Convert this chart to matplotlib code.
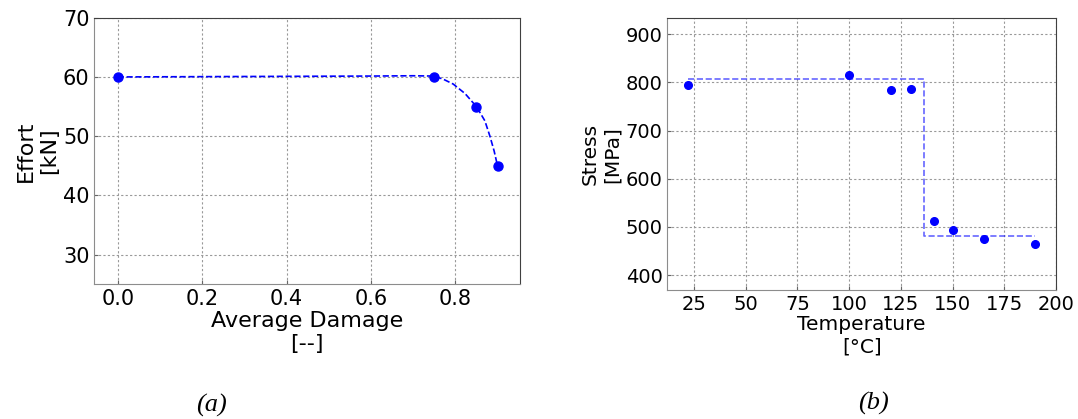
import numpy as np
import matplotlib
matplotlib.use('Agg')
import matplotlib.pyplot as plt

# (a) effort vs average damage
damage_pts = [0.0, 0.75, 0.85, 0.90]
effort_pts = [60.0, 60.0, 55.0, 45.0]
# fitted curve
damage_fit = [0.0, 0.2, 0.4, 0.6, 0.7, 0.75, 0.772, 0.795, 0.823, 0.85, 0.87, 0.882, 0.892, 0.9]
effort_fit = [60.0, 60.05, 60.1, 60.15, 60.2, 60.15, 59.6, 58.8, 57.2, 55.0, 52.6, 50.0, 47.5, 45.0]

# (b) stress vs temperature
temp_pts = [22, 100, 120, 130, 141, 150, 165, 190]
stress_pts = [795, 816, 784, 786, 512, 493, 475, 465]
temp_step = [22, 136, 136, 190]
stress_step = [807, 807, 481, 481]


def style_axes(ax, tick_size):
    ax.grid(True, color='0.6', linestyle=(0, (2, 2)), linewidth=0.8)
    ax.set_axisbelow(True)
    ax.tick_params(direction='in', length=3, labelsize=tick_size, color='0.4')
    for side in ['left', 'bottom']:
        ax.spines[side].set_color('0.55')
    for side in ['top', 'right']:
        ax.spines[side].set_color('0.25')


fig = plt.figure(figsize=(10.78, 4.19), dpi=100)

ax1 = fig.add_axes([94.3 / 1078, 1 - 284.3 / 419, 426 / 1078, 266.6 / 419])
ax1.plot(damage_fit, effort_fit, '--', color='b', lw=1.2)
ax1.plot(damage_pts, effort_pts, 'o', color='b', ms=6.5)
ax1.set_xlim(-0.0555, 0.954)
ax1.set_ylim(25, 70)
ax1.set_xticks([0.0, 0.2, 0.4, 0.6, 0.8])
ax1.set_yticks([30, 40, 50, 60, 70])
ax1.set_xlabel('Average Damage\n[--]', fontsize=16, labelpad=1)
ax1.set_ylabel('Effort\n[kN]', fontsize=16, labelpad=3)
style_axes(ax1, 15)

ax2 = fig.add_axes([667.3 / 1078, 1 - 290 / 419, 388.7 / 1078, 271.7 / 419])
ax2.plot(temp_step, stress_step, '--', color='b', lw=1.2, alpha=0.6)
ax2.plot(temp_pts, stress_pts, 'o', color='b', ms=5.5)
ax2.set_xlim(12.1, 200)
ax2.set_ylim(369, 933)
ax2.set_xticks([25, 50, 75, 100, 125, 150, 175, 200])
ax2.set_yticks([400, 500, 600, 700, 800, 900])
ax2.set_xlabel('Temperature\n[°C]', fontsize=14.5, labelpad=1)
ax2.set_ylabel('Stress\n[MPa]', fontsize=14.5, labelpad=3)
style_axes(ax2, 14)

fig.text(211.7 / 1078, 1 - 405 / 419, '(a)', fontsize=19, style='italic',
         family='Liberation Serif', ha='center', va='center')
fig.text(873.3 / 1078, 1 - 403 / 419, '(b)', fontsize=19, style='italic',
         family='Liberation Serif', ha='center', va='center')

fig.savefig('out.png', dpi=100)
